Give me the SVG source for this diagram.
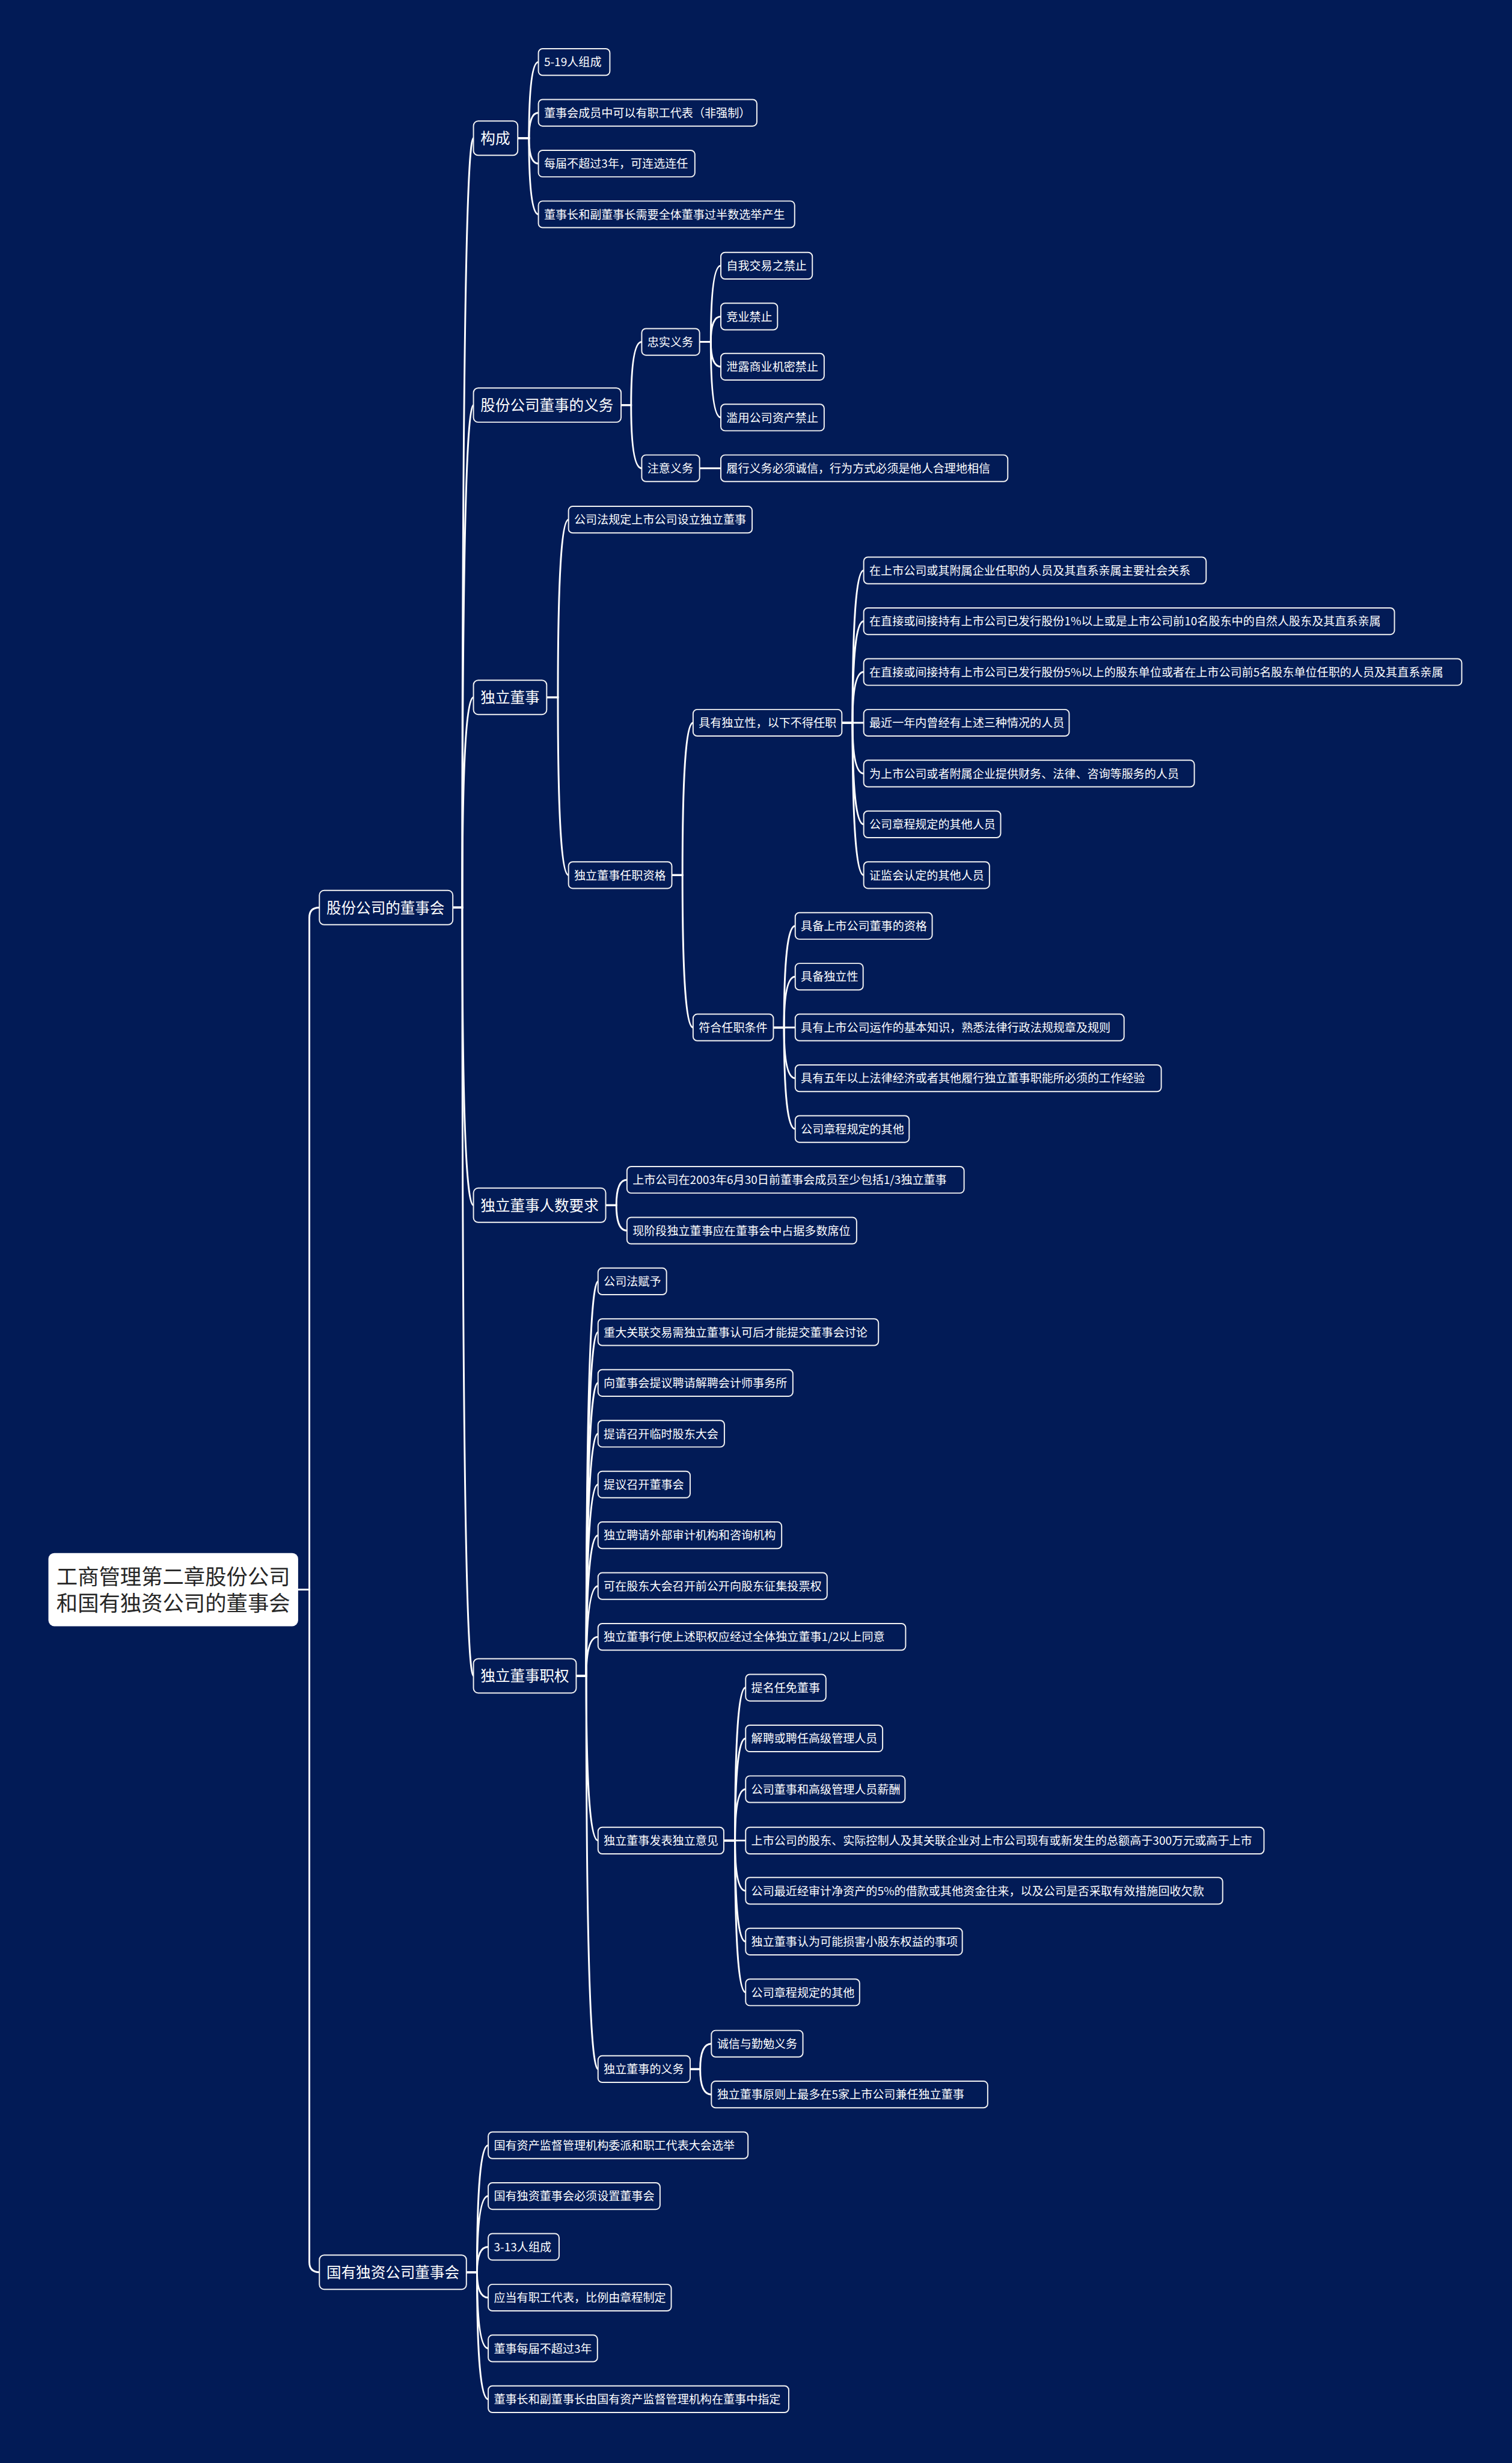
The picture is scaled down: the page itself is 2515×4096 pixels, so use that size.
<svg xmlns="http://www.w3.org/2000/svg" width="2515" height="4096" viewBox="0 0 2515 4096">
<style>
.bg{fill:#021b56}
.c path{fill:none;stroke:#ffffff;stroke-width:3;stroke-linecap:round}
.s rect,.b rect{fill:#021b56;stroke:#f2f2f2;stroke-width:2}
.s text,.b text{fill:#ffffff;font-family:"Noto Sans CJK SC","Noto Sans",sans-serif}
.s text{font-size:19.45px}
.b text{font-size:25px}
.r rect{fill:#ffffff}
.r text{fill:#262626;font-family:"Noto Sans CJK SC","Noto Sans",sans-serif;font-size:36px;text-anchor:middle}
</style>
<rect class="bg" x="0" y="0" width="2515" height="4096"/>
<g transform="scale(0.982)">
<g id="connectors" class="c">
<path d="M505,2692 H524 V1554 Q524,1537 541,1537"/>
<path d="M505,2692 H524 V3831 Q524,3848 541,3848"/>
<path d="M767,1537 H783 Q783,234 802,234"/>
<path d="M767,1537 H783 Q783,686 802,686"/>
<path d="M767,1537 H783 Q783,1181 802,1181"/>
<path d="M767,1537 H783 Q783,2041 802,2041"/>
<path d="M767,1537 H783 Q783,2838 802,2838"/>
<path d="M790,3848 H808 Q808,3633 827,3633"/>
<path d="M790,3848 H808 Q808,3719 827,3719"/>
<path d="M790,3848 H808 Q808,3805 827,3805"/>
<path d="M790,3848 H808 Q808,3891 827,3891"/>
<path d="M790,3848 H808 Q808,3977 827,3977"/>
<path d="M790,3848 H808 Q808,4063 827,4063"/>
<path d="M877,234 H896 Q896,105 912,105"/>
<path d="M877,234 H896 Q896,191 912,191"/>
<path d="M877,234 H896 Q896,277 912,277"/>
<path d="M877,234 H896 Q896,363 912,363"/>
<path d="M1052,686 H1069 Q1069,579 1087,579"/>
<path d="M1052,686 H1069 Q1069,793 1087,793"/>
<path d="M1185,579 H1204 Q1204,450 1221,450"/>
<path d="M1185,579 H1204 Q1204,536 1221,536"/>
<path d="M1185,579 H1204 Q1204,621 1221,621"/>
<path d="M1185,579 H1204 Q1204,707 1221,707"/>
<path d="M1185,793 H1221"/>
<path d="M926,1181 H945 Q945,880 963,880"/>
<path d="M926,1181 H945 Q945,1482 963,1482"/>
<path d="M1138,1482 H1156 Q1156,1224 1174,1224"/>
<path d="M1138,1482 H1156 Q1156,1740 1174,1740"/>
<path d="M1426,1224 H1444 Q1444,966 1463,966"/>
<path d="M1426,1224 H1444 Q1444,1052 1463,1052"/>
<path d="M1426,1224 H1444 Q1444,1138 1463,1138"/>
<path d="M1426,1224 H1463"/>
<path d="M1426,1224 H1444 Q1444,1310 1463,1310"/>
<path d="M1426,1224 H1444 Q1444,1396 1463,1396"/>
<path d="M1426,1224 H1444 Q1444,1482 1463,1482"/>
<path d="M1310,1740 H1328 Q1328,1568 1347,1568"/>
<path d="M1310,1740 H1328 Q1328,1654 1347,1654"/>
<path d="M1310,1740 H1347"/>
<path d="M1310,1740 H1328 Q1328,1826 1347,1826"/>
<path d="M1310,1740 H1328 Q1328,1912 1347,1912"/>
<path d="M1026,2041 H1044 Q1044,1998 1062,1998"/>
<path d="M1026,2041 H1044 Q1044,2084 1062,2084"/>
<path d="M976,2838 H993 Q993,2170 1013,2170"/>
<path d="M976,2838 H993 Q993,2256 1013,2256"/>
<path d="M976,2838 H993 Q993,2342 1013,2342"/>
<path d="M976,2838 H993 Q993,2428 1013,2428"/>
<path d="M976,2838 H993 Q993,2514 1013,2514"/>
<path d="M976,2838 H993 Q993,2600 1013,2600"/>
<path d="M976,2838 H993 Q993,2686 1013,2686"/>
<path d="M976,2838 H993 Q993,2772 1013,2772"/>
<path d="M976,2838 H993 Q993,3117 1013,3117"/>
<path d="M976,2838 H993 Q993,3504 1013,3504"/>
<path d="M1226,3117 H1245 Q1245,2858 1263,2858"/>
<path d="M1226,3117 H1245 Q1245,2944 1263,2944"/>
<path d="M1226,3117 H1245 Q1245,3030 1263,3030"/>
<path d="M1226,3117 H1263"/>
<path d="M1226,3117 H1245 Q1245,3202 1263,3202"/>
<path d="M1226,3117 H1245 Q1245,3288 1263,3288"/>
<path d="M1226,3117 H1245 Q1245,3374 1263,3374"/>
<path d="M1169,3504 H1186 Q1186,3461 1205,3461"/>
<path d="M1169,3504 H1186 Q1186,3547 1205,3547"/>
</g>

<g id="root" class="r"><rect x="82" y="2630" width="423" height="124" rx="10"/><text x="293.5" y="2683.5">工商管理第二章股份公司</text><text x="293.5" y="2728.5">和国有独资公司的董事会</text></g>

<g id="n1" class="b"><rect x="541" y="1508" width="226" height="58" rx="8"/><text x="553" y="1546.5">股份公司的董事会</text></g>
<g id="n2" class="b"><rect x="541" y="3819" width="249" height="58" rx="8"/><text x="553" y="3857.5">国有独资公司董事会</text></g>
<g id="n1a" class="b"><rect x="802" y="205" width="75" height="58" rx="8"/><text x="814" y="243.5">构成</text></g>
<g id="n1b" class="b"><rect x="802" y="657" width="250" height="58" rx="8"/><text x="814" y="695.5">股份公司董事的义务</text></g>
<g id="n1c" class="b"><rect x="802" y="1152" width="124" height="58" rx="8"/><text x="814" y="1190.5">独立董事</text></g>
<g id="n1d" class="b"><rect x="802" y="2012" width="224" height="58" rx="8"/><text x="814" y="2050.5">独立董事人数要求</text></g>
<g id="n1e" class="b"><rect x="802" y="2809" width="174" height="58" rx="8"/><text x="814" y="2847.5">独立董事职权</text></g>

<g id="n1a1" class="s"><rect x="912" y="82.5" width="121" height="45" rx="7"/><text x="921.5" y="112.4">5-19人组成</text></g>
<g id="n1a2" class="s"><rect x="912" y="168.5" width="370" height="45" rx="7"/><text x="921.5" y="198.4">董事会成员中可以有职工代表（非强制）</text></g>
<g id="n1a3" class="s"><rect x="912" y="254.5" width="265" height="45" rx="7"/><text x="921.5" y="284.4">每届不超过3年，可连选连任</text></g>
<g id="n1a4" class="s"><rect x="912" y="340.5" width="434" height="45" rx="7"/><text x="921.5" y="370.4">董事长和副董事长需要全体董事过半数选举产生</text></g>

<g id="n1b1" class="s"><rect x="1087" y="556.5" width="98" height="45" rx="7"/><text x="1096.5" y="586.4">忠实义务</text></g>
<g id="n1b2" class="s"><rect x="1087" y="770.5" width="98" height="45" rx="7"/><text x="1096.5" y="800.4">注意义务</text></g>
<g id="n1b1a" class="s"><rect x="1221" y="427.5" width="155" height="45" rx="7"/><text x="1230.5" y="457.4">自我交易之禁止</text></g>
<g id="n1b1b" class="s"><rect x="1221" y="513.5" width="96" height="45" rx="7"/><text x="1230.5" y="543.4">竞业禁止</text></g>
<g id="n1b1c" class="s"><rect x="1221" y="598.5" width="175" height="45" rx="7"/><text x="1230.5" y="628.4">泄露商业机密禁止</text></g>
<g id="n1b1d" class="s"><rect x="1221" y="684.5" width="175" height="45" rx="7"/><text x="1230.5" y="714.4">滥用公司资产禁止</text></g>
<g id="n1b2a" class="s"><rect x="1221" y="770.5" width="486" height="45" rx="7"/><text x="1230.5" y="800.4">履行义务必须诚信，行为方式必须是他人合理地相信</text></g>

<g id="n1c1" class="s"><rect x="963" y="857.5" width="311" height="45" rx="7"/><text x="972.5" y="887.4">公司法规定上市公司设立独立董事</text></g>
<g id="n1c2" class="s"><rect x="963" y="1459.5" width="175" height="45" rx="7"/><text x="972.5" y="1489.4">独立董事任职资格</text></g>
<g id="n1c2a" class="s"><rect x="1174" y="1201.5" width="252" height="45" rx="7"/><text x="1183.5" y="1231.4">具有独立性，以下不得任职</text></g>
<g id="n1c2b" class="s"><rect x="1174" y="1717.5" width="136" height="45" rx="7"/><text x="1183.5" y="1747.4">符合任职条件</text></g>
<g id="n1c2a1" class="s"><rect x="1463" y="943.5" width="580" height="45" rx="7"/><text x="1472.5" y="973.4">在上市公司或其附属企业任职的人员及其直系亲属主要社会关系</text></g>
<g id="n1c2a2" class="s"><rect x="1463" y="1029.5" width="899" height="45" rx="7"/><text x="1472.5" y="1059.4">在直接或间接持有上市公司已发行股份1%以上或是上市公司前10名股东中的自然人股东及其直系亲属</text></g>
<g id="n1c2a3" class="s"><rect x="1463" y="1115.5" width="1013" height="45" rx="7"/><text x="1472.5" y="1145.4">在直接或间接持有上市公司已发行股份5%以上的股东单位或者在上市公司前5名股东单位任职的人员及其直系亲属</text></g>
<g id="n1c2a4" class="s"><rect x="1463" y="1201.5" width="348" height="45" rx="7"/><text x="1472.5" y="1231.4">最近一年内曾经有上述三种情况的人员</text></g>
<g id="n1c2a5" class="s"><rect x="1463" y="1287.5" width="560" height="45" rx="7"/><text x="1472.5" y="1317.4">为上市公司或者附属企业提供财务、法律、咨询等服务的人员</text></g>
<g id="n1c2a6" class="s"><rect x="1463" y="1373.5" width="232" height="45" rx="7"/><text x="1472.5" y="1403.4">公司章程规定的其他人员</text></g>
<g id="n1c2a7" class="s"><rect x="1463" y="1459.5" width="213" height="45" rx="7"/><text x="1472.5" y="1489.4">证监会认定的其他人员</text></g>
<g id="n1c2b1" class="s"><rect x="1347" y="1545.5" width="232" height="45" rx="7"/><text x="1356.5" y="1575.4">具备上市公司董事的资格</text></g>
<g id="n1c2b2" class="s"><rect x="1347" y="1631.5" width="115" height="45" rx="7"/><text x="1356.5" y="1661.4">具备独立性</text></g>
<g id="n1c2b3" class="s"><rect x="1347" y="1717.5" width="557" height="45" rx="7"/><text x="1356.5" y="1747.4">具有上市公司运作的基本知识，熟悉法律行政法规规章及规则</text></g>
<g id="n1c2b4" class="s"><rect x="1347" y="1803.5" width="620" height="45" rx="7"/><text x="1356.5" y="1833.4">具有五年以上法律经济或者其他履行独立董事职能所必须的工作经验</text></g>
<g id="n1c2b5" class="s"><rect x="1347" y="1889.5" width="193" height="45" rx="7"/><text x="1356.5" y="1919.4">公司章程规定的其他</text></g>

<g id="n1d1" class="s"><rect x="1062" y="1975.5" width="571" height="45" rx="7"/><text x="1071.5" y="2005.4">上市公司在2003年6月30日前董事会成员至少包括1/3独立董事</text></g>
<g id="n1d2" class="s"><rect x="1062" y="2061.5" width="389" height="45" rx="7"/><text x="1071.5" y="2091.4">现阶段独立董事应在董事会中占据多数席位</text></g>

<g id="n1e1" class="s"><rect x="1013" y="2147.5" width="116" height="45" rx="7"/><text x="1022.5" y="2177.4">公司法赋予</text></g>
<g id="n1e2" class="s"><rect x="1013" y="2233.5" width="475" height="45" rx="7"/><text x="1022.5" y="2263.4">重大关联交易需独立董事认可后才能提交董事会讨论</text></g>
<g id="n1e3" class="s"><rect x="1013" y="2319.5" width="330" height="45" rx="7"/><text x="1022.5" y="2349.4">向董事会提议聘请解聘会计师事务所</text></g>
<g id="n1e4" class="s"><rect x="1013" y="2405.5" width="214" height="45" rx="7"/><text x="1022.5" y="2435.4">提请召开临时股东大会</text></g>
<g id="n1e5" class="s"><rect x="1013" y="2491.5" width="156" height="45" rx="7"/><text x="1022.5" y="2521.4">提议召开董事会</text></g>
<g id="n1e6" class="s"><rect x="1013" y="2577.5" width="311" height="45" rx="7"/><text x="1022.5" y="2607.4">独立聘请外部审计机构和咨询机构</text></g>
<g id="n1e7" class="s"><rect x="1013" y="2663.5" width="388" height="45" rx="7"/><text x="1022.5" y="2693.4">可在股东大会召开前公开向股东征集投票权</text></g>
<g id="n1e8" class="s"><rect x="1013" y="2749.5" width="521" height="45" rx="7"/><text x="1022.5" y="2779.4">独立董事行使上述职权应经过全体独立董事1/2以上同意</text></g>
<g id="n1e9" class="s"><rect x="1013" y="3094.5" width="213" height="45" rx="7"/><text x="1022.5" y="3124.4">独立董事发表独立意见</text></g>
<g id="n1e10" class="s"><rect x="1013" y="3481.5" width="156" height="45" rx="7"/><text x="1022.5" y="3511.4">独立董事的义务</text></g>
<g id="n1e9a" class="s"><rect x="1263" y="2835.5" width="136" height="45" rx="7"/><text x="1272.5" y="2865.4">提名任免董事</text></g>
<g id="n1e9b" class="s"><rect x="1263" y="2921.5" width="232" height="45" rx="7"/><text x="1272.5" y="2951.4">解聘或聘任高级管理人员</text></g>
<g id="n1e9c" class="s"><rect x="1263" y="3007.5" width="270" height="45" rx="7"/><text x="1272.5" y="3037.4">公司董事和高级管理人员薪酬</text></g>
<g id="n1e9d" class="s"><rect x="1263" y="3094.5" width="878" height="45" rx="7"/><text x="1272.5" y="3124.4">上市公司的股东、实际控制人及其关联企业对上市公司现有或新发生的总额高于300万元或高于上市</text></g>
<g id="n1e9e" class="s"><rect x="1263" y="3179.5" width="808" height="45" rx="7"/><text x="1272.5" y="3209.4">公司最近经审计净资产的5%的借款或其他资金往来，以及公司是否采取有效措施回收欠款</text></g>
<g id="n1e9f" class="s"><rect x="1263" y="3265.5" width="367" height="45" rx="7"/><text x="1272.5" y="3295.4">独立董事认为可能损害小股东权益的事项</text></g>
<g id="n1e9g" class="s"><rect x="1263" y="3351.5" width="193" height="45" rx="7"/><text x="1272.5" y="3381.4">公司章程规定的其他</text></g>
<g id="n1e10a" class="s"><rect x="1205" y="3438.5" width="155" height="45" rx="7"/><text x="1214.5" y="3468.4">诚信与勤勉义务</text></g>
<g id="n1e10b" class="s"><rect x="1205" y="3524.5" width="468" height="45" rx="7"/><text x="1214.5" y="3554.4">独立董事原则上最多在5家上市公司兼任独立董事</text></g>

<g id="n2a" class="s"><rect x="827" y="3610.5" width="440" height="45" rx="7"/><text x="836.5" y="3640.4">国有资产监督管理机构委派和职工代表大会选举</text></g>
<g id="n2b" class="s"><rect x="827" y="3696.5" width="291" height="45" rx="7"/><text x="836.5" y="3726.4">国有独资董事会必须设置董事会</text></g>
<g id="n2c" class="s"><rect x="827" y="3782.5" width="120" height="45" rx="7"/><text x="836.5" y="3812.4">3-13人组成</text></g>
<g id="n2d" class="s"><rect x="827" y="3868.5" width="310" height="45" rx="7"/><text x="836.5" y="3898.4">应当有职工代表，比例由章程制定</text></g>
<g id="n2e" class="s"><rect x="827" y="3954.5" width="185" height="45" rx="7"/><text x="836.5" y="3984.4">董事每届不超过3年</text></g>
<g id="n2f" class="s"><rect x="827" y="4040.5" width="509" height="45" rx="7"/><text x="836.5" y="4070.4">董事长和副董事长由国有资产监督管理机构在董事中指定</text></g>
</g>
</svg>
